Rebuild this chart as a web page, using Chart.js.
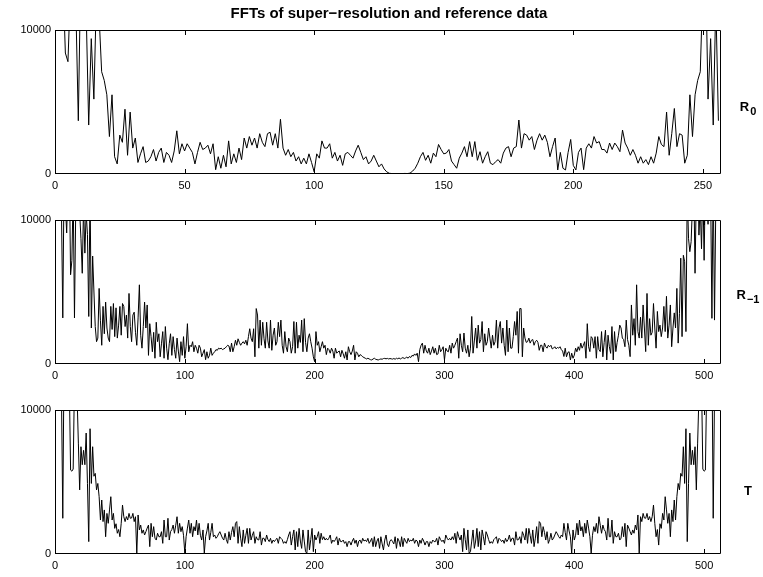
<!DOCTYPE html>
<html>
<head>
<meta charset="utf-8">
<script src="https://cdn.jsdelivr.net/npm/chart.js@4.4.0/dist/chart.umd.min.js"></script>
<style>
  body { margin: 0; background: #fff; }
  #figure { position: relative; width: 763px; height: 577px; background: #fff; }
  #figure canvas { position: absolute; left: 0; }
</style>
</head>
<body>
<div id="figure">
  <canvas id="chartR0" width="763" height="196" style="top:0px"></canvas>
  <canvas id="chartR1" width="763" height="196" style="top:190px"></canvas>
  <canvas id="chartT" width="763" height="196" style="top:380px"></canvas>
</div>
<script>
// FFT magnitudes, one value per frequency bin (bin 1 first)
const r0Spectrum = [
  22000, 18000, 14000, 8400, 7800, 13000, 16000, 12000, 3700, 15000,
  14000, 11500, 3400, 9400, 5200, 12500, 11000, 7100, 6500, 5500,
  2600, 5500, 1200, 700, 2700, 2200, 4500, 1300, 4300, 1800,
  2500, 800, 1400, 1900, 800, 900, 1200, 1700, 900, 1500,
  1800, 800, 1500, 1300, 800, 1600, 3000, 1400, 2100, 1600,
  2100, 1800, 1500, 700, 1500, 2200, 1700, 1800, 2000, 1400,
  2100, 300, 1200, 400, 1300, 500, 2300, 700, 1400, 800,
  1800, 1000, 2500, 1800, 2600, 2000, 2500, 1800, 2800, 2200,
  1900, 2800, 2900, 2000, 2800, 1800, 3800, 1800, 1300, 1700,
  1200, 1500, 900, 1200, 700, 1100, 700, 1400, 800, 150,
  1400, 1100, 2300, 1800, 1800, 2100, 1100, 1500, 900, 1300,
  600, 1400, 1500, 1300, 1100, 1600, 2000, 1500, 1000, 1200,
  700, 900, 1300, 900, 500, 700, 350, 150, 50, 30,
  20, 30, 20, 30, 40, 30, 60, 200, 400, 750,
  1200, 1500, 950, 1300, 750, 1450, 1200, 2050, 1700, 1400,
  1450, 1700, 900, 650, 400, 1100, 1450, 1900, 1200, 2250,
  1200, 2250, 950, 1550, 750, 1200, 1550, 750, 650, 850,
  1000, 750, 1450, 1800, 1900, 1200, 1800, 1900, 3750, 1800,
  2800, 2700, 2350, 2600, 1700, 2350, 2800, 2350, 2700, 2200,
  1200, 1900, 2500, 280, 1500, 400, 280, 1500, 2400, 600,
  280, 1500, 1800, 300, 1800, 2100, 1800, 2600, 2150, 2250,
  1700, 1700, 1450, 2150, 1700, 2150, 1900, 1550, 3050, 2150,
  1800, 1300, 1700, 1300, 750, 1200, 750, 1000, 650, 1200,
  750, 1450, 2600, 2050, 1900, 4300, 1300, 2800, 4550, 1900,
  2800, 2700, 750, 1300, 5500, 2600, 5500, 6500, 7100, 13000,
  15000, 5200, 9400, 3400, 12000, 3700
];

const r1Spectrum = [
  16000, 14000, 15000, 12000, 10500, 3200, 13000, 11000, 9100, 12500,
  14000, 6200, 7200, 12000, 3200, 11000, 13000, 14000, 10500, 8700,
  6300, 11000, 7700, 10500, 9000, 3300, 12000, 2500, 7500, 5000,
  2600, 1550, 1800, 5250, 3000, 1300, 4000, 2100, 4300, 2500,
  1800, 1550, 4000, 2400, 4200, 1900, 3900, 1800, 2700, 4000,
  2000, 4200, 4000, 2600, 3400, 1800, 4900, 2600, 1550, 3400,
  3600, 2200, 1300, 3200, 5500, 2000, 1100, 2600, 4300, 2500,
  4100, 600, 2800, 1900, 850, 2200, 400, 2900, 1550, 2100,
  500, 1400, 2250, 400, 2600, 1100, 300, 1400, 2100, 600,
  1900, 1000, 400, 1800, 900, 160, 1550, 600, 1900, 400,
  1200, 2800, 850, 1300, 1200, 1550, 850, 1300, 1100, 750,
  1300, 1100, 500, 750, 1000, 300, 850, 400, 600, 1100,
  600, 750, 850, 1000, 950, 1100, 1050, 1100, 1000, 1050,
  1100, 1200, 1300, 1250, 850, 1450, 850, 1200, 1650, 1300,
  1750, 1500, 1300, 1450, 1550, 1400, 1650, 1300, 1900, 2450,
  1800, 1550, 2450, 500, 3850, 3400, 1100, 3050, 1300, 2900,
  1750, 1100, 2900, 1600, 1100, 3050, 950, 2000, 2500, 1300,
  1550, 2900, 1900, 3050, 1300, 750, 2250, 1200, 850, 1800,
  1550, 750, 1200, 2950, 750, 2900, 1100, 2000, 1500, 3050,
  850, 3150, 1500, 850, 1800, 2100, 1550, 1100, 500, 160,
  2250, 1300, 1550, 850, 1200, 1550, 1100, 1300, 650, 1100,
  1000, 750, 1100, 900, 400, 1100, 750, 850, 900, 500,
  950, 700, 400, 850, 280, 1200, 850, 650, 900, 1300,
  280, 850, 750, 500, 650, 600, 500, 450, 400, 350,
  400, 350, 300, 280, 350, 400, 330, 300, 280, 320,
  350, 330, 380, 390, 360, 390, 350, 380, 360, 340,
  380, 330, 400, 360, 420, 350, 400, 450, 380, 420,
  480, 400, 520, 450, 600, 550, 700, 600, 750, 160,
  1000, 1300, 1450, 750, 1300, 900, 750, 1100, 650, 900,
  1200, 750, 1100, 650, 700, 1300, 850, 1000, 1200, 280,
  1100, 900, 850, 1300, 750, 1450, 1100, 1300, 1550, 1800,
  400, 2100, 1300, 850, 2150, 1100, 750, 1300, 500, 1100,
  3300, 750, 1600, 2500, 1100, 2700, 1450, 1700, 2950, 850,
  2100, 1300, 1550, 2500, 1800, 1100, 2000, 1300, 1550, 3050,
  1100, 2500, 2950, 1450, 2500, 1300, 600, 3050, 850, 2500,
  1100, 1100, 1900, 2950, 2000, 3650, 750, 3850, 3850, 500,
  2500, 1800, 1500, 1550, 1800, 1450, 1650, 1700, 1300, 1550,
  1650, 1500, 950, 1300, 1300, 850, 1450, 1200, 1100, 1300,
  1200, 1300, 1050, 1100, 1200, 1050, 1150, 1100, 1200, 1000,
  900, 520, 1100, 500, 800, 850, 280, 750, 400, 620,
  1100, 850, 1200, 950, 1450, 1100, 1300, 1550, 400, 2800,
  1200, 860, 1900, 1780, 1100, 1900, 400, 1900, 1000, 860,
  2250, 500, 1500, 2350, 280, 2000, 1200, 740, 2600, 280,
  2250, 860, 1500, 2000, 2700, 2500, 1800, 1700, 1200, 3050,
  1700, 1300, 510, 4100, 2000, 3150, 1300, 5500, 2250, 1800,
  3250, 1800, 4100, 2500, 860, 4900, 1300, 3150, 2000, 2200,
  4200, 2500, 1100, 3650, 2250, 2700, 1900, 2500, 4000, 2250,
  4700, 1800, 2700, 4100, 1200, 2500, 3550, 2500, 5250, 1450,
  3500, 7350, 1900, 7550, 7100, 2250, 12000, 8700, 7800, 8500,
  11000, 13000, 6300, 12000, 14000, 8950, 11000, 8000, 12500, 7200,
  13000, 15000, 9700, 14000, 12000, 3170, 13000, 3050, 11000, 16000,
  14000, 12000
];

const tSpectrum = [
  15000, 13000, 16000, 12000, 11000, 2480, 14000, 12500, 13000, 11000,
  12000, 5830, 5750, 5900, 12000, 14000, 11000, 7700, 4450, 7450,
  6200, 7200, 6200, 8400, 4900, 860, 8700, 4900, 7450, 5400,
  5600, 4450, 4900, 3980, 2360, 3750, 2250, 3060, 1200, 2820,
  2130, 3060, 3980, 2360, 2820, 1780, 2100, 1440, 1700, 1200,
  2130, 3400, 2590, 2250, 2600, 2360, 2820, 2480, 2500, 2820,
  2250, 2590, 50, 2710, 1670, 2010, 1440, 1670, 1320, 1550,
  1800, 2010, 510, 2130, 1200, 1900, 1100, 970, 1440, 1200,
  1200, 1550, 740, 2360, 1200, 1200, 2480, 970, 1550, 1700,
  2010, 1440, 2000, 2590, 1440, 2130, 1550, 1900, 1300, 50,
  1200, 1800, 2360, 1440, 2130, 1200, 1900, 1600, 2360, 1320,
  2130, 1300, 970, 1670, 50, 1200, 1600, 2130, 970, 1500,
  2130, 1200, 1320, 1090, 1200, 1400, 1550, 1320, 1100, 970,
  1440, 1000, 740, 1550, 970, 1500, 1900, 1200, 2130, 2250,
  740, 1900, 1100, 510, 1670, 740, 1300, 1780, 740, 1780,
  970, 1300, 1550, 740, 1200, 1000, 970, 1550, 620, 1100,
  1090, 860, 1320, 1000, 860, 1090, 740, 970, 860, 1000,
  1090, 740, 1200, 1090, 1000, 740, 860, 740, 1000, 1320,
  1550, 620, 1200, 1670, 280, 1550, 510, 1780, 900, 390,
  1670, 900, 160, 50, 1670, 280, 1000, 1780, 160, 1320,
  970, 1200, 1550, 740, 1440, 1000, 1200, 970, 1090, 970,
  1100, 1320, 740, 970, 860, 1000, 1200, 620, 1090, 860,
  860, 970, 740, 860, 510, 860, 860, 620, 900, 1090,
  740, 970, 510, 900, 970, 740, 1090, 900, 970, 860,
  1090, 740, 900, 1090, 510, 1200, 510, 900, 1090, 390,
  1200, 700, 280, 970, 1320, 700, 510, 900, 1000, 860,
  700, 1200, 390, 1090, 900, 510, 1200, 510, 1090, 900,
  740, 1090, 860, 970, 900, 1090, 740, 970, 900, 510,
  970, 740, 1090, 900, 620, 860, 860, 510, 860, 740,
  970, 860, 860, 1090, 620, 1200, 1000, 860, 970, 740,
  1320, 1100, 970, 1090, 970, 1200, 1000, 1440, 740, 1550,
  1200, 970, 1320, 160, 1780, 1000, 280, 1670, 50, 160,
  900, 1670, 390, 900, 1780, 510, 1550, 280, 1670, 1200,
  620, 1550, 1320, 1000, 740, 860, 740, 1000, 1090, 1200,
  740, 1090, 1000, 860, 970, 740, 1090, 860, 1000, 1320,
  860, 1090, 1100, 620, 1550, 970, 1000, 1200, 740, 1550,
  1300, 970, 1780, 740, 1780, 1300, 740, 1670, 510, 1100,
  1900, 740, 2250, 2130, 1200, 1900, 1500, 970, 1550, 740,
  1000, 1440, 970, 1100, 1320, 1550, 1400, 1200, 1090, 1320,
  1200, 2130, 1500, 970, 2130, 1600, 1200, 50, 1670, 970,
  1300, 2130, 1320, 2360, 1600, 1900, 1200, 2130, 1440, 2360,
  1800, 1200, 50, 1300, 1900, 1550, 2130, 1440, 2590, 2000,
  1440, 2010, 1700, 1550, 970, 2480, 1200, 1200, 2360, 740,
  1550, 1200, 1200, 1440, 970, 1100, 1900, 1200, 2130, 510,
  2010, 1800, 1550, 1320, 1670, 1440, 2010, 1670, 2710, 50,
  2590, 2250, 2820, 2500, 2480, 2820, 2360, 2600, 2250, 2590,
  3400, 2130, 1200, 1700, 620, 2100, 1780, 2820, 2360, 3980,
  3060, 2130, 2820, 1200, 3060, 2250, 3750, 2360, 3980, 4900,
  4450, 5600, 5400, 7450, 4900, 8700, 860, 4900, 8400, 6200,
  7200, 6200, 7450, 4450, 7700, 11000, 14000, 12000, 5900, 5750,
  5830, 12000, 11000, 13000, 12500, 14000, 2480, 11000, 12000, 16000,
  13000, 15000
];

const yTickValues = [0, 10000];
const figureTitle = 'FFTs of super\u2212resolution and reference data';

const fontFamily = '"Liberation Sans", Arial, Helvetica, sans-serif';

// box, inward ticks and the side labels, matlab style
const panelFrame = {
  id: 'panelFrame',
  afterDraw(chart, args, opts) {
    const ctx = chart.ctx;
    const area = chart.chartArea;
    const xScale = chart.scales.x;

    ctx.save();
    ctx.strokeStyle = '#000';
    ctx.lineWidth = 1;
    ctx.beginPath();
    ctx.rect(area.left + 0.5, area.top + 0.5, area.width - 1, area.height - 1);
    xScale.ticks.forEach(tick => {
      const px = Math.round(xScale.getPixelForValue(tick.value)) + 0.5;
      ctx.moveTo(px, area.bottom);
      ctx.lineTo(px, area.bottom - 5);
      ctx.moveTo(px, area.top);
      ctx.lineTo(px, area.top + 5);
    });
    ctx.stroke();

    ctx.fillStyle = '#000';
    ctx.textBaseline = 'alphabetic';

    if (opts.title) {
      ctx.font = 'bold 15px ' + fontFamily;
      ctx.textAlign = 'center';
      ctx.fillText(opts.title, (area.left + area.right) / 2 + 1, area.top - 12);
    }

    ctx.textAlign = 'left';
    ctx.font = 'bold 13px ' + fontFamily;
    const mainWidth = ctx.measureText(opts.name).width;
    ctx.font = 'bold 11px ' + fontFamily;
    const subWidth = opts.sub ? ctx.measureText(opts.sub).width + 1 : 0;
    const startX = area.right + 27 - (mainWidth + subWidth) / 2;
    const baseY = area.top + opts.nameOffset;
    ctx.font = 'bold 13px ' + fontFamily;
    ctx.fillText(opts.name, startX, baseY);
    if (opts.sub) {
      ctx.font = 'bold 11px ' + fontFamily;
      ctx.fillText(opts.sub, startX + mainWidth + 1, baseY + 4);
    }
    ctx.restore();
  }
};

function createPanel(canvasId, values, xMax, xStep, labels) {
  const ctx = document.getElementById(canvasId).getContext('2d');
  return new Chart(ctx, {
    type: 'line',
    data: {
      datasets: [{
        data: values.map((v, i) => ({ x: i + 1, y: v })),
        borderColor: '#000',
        borderWidth: 1,
        pointRadius: 0,
        fill: false,
        tension: 0,
        clip: 0
      }]
    },
    options: {
      responsive: false,
      animation: false,
      devicePixelRatio: 1,
      layout: { padding: { left: 0, right: 42, top: 30, bottom: 2 } },
      plugins: {
        legend: { display: false },
        tooltip: { enabled: false },
        panelFrame: labels
      },
      scales: {
        x: {
          type: 'linear',
          min: 0,
          max: xMax,
          grid: { display: false, drawTicks: false },
          border: { display: false },
          ticks: {
            stepSize: xStep,
            includeBounds: false,
            autoSkip: false,
            maxRotation: 0,
            padding: 5,
            color: '#000',
            font: { family: fontFamily, size: 11 }
          },
          afterFit: scale => { scale.height = 20; }
        },
        y: {
          type: 'linear',
          min: 0,
          max: 10000,
          grid: { display: false, drawTicks: false },
          border: { display: false },
          afterBuildTicks: scale => {
            scale.ticks = yTickValues.map(v => ({ value: v }));
          },
          ticks: {
            padding: 4,
            color: '#000',
            font: { family: fontFamily, size: 11 },
            callback: value => String(value)
          },
          afterFit: scale => { scale.width = 55; }
        }
      }
    },
    plugins: [panelFrame]
  });
}

createPanel('chartR0', r0Spectrum, 257, 50, { title: figureTitle, name: 'R', sub: '0', nameOffset: 81 });
createPanel('chartR1', r1Spectrum, 513, 100, { name: 'R', sub: '\u22121', nameOffset: 79 });
createPanel('chartT', tSpectrum, 513, 100, { name: 'T', sub: '', nameOffset: 85 });
</script>
</body>
</html>
